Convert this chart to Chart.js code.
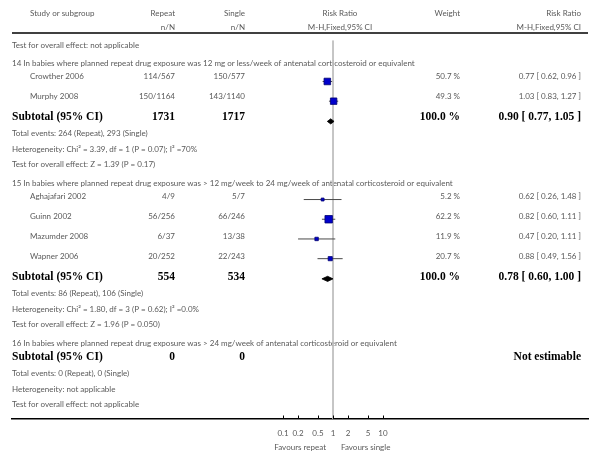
<!DOCTYPE html>
<html>
<head>
<meta charset="utf-8">
<script src="https://cdn.jsdelivr.net/npm/chart.js@4.4.1/dist/chart.umd.min.js"></script>
<style>
  html, body { margin: 0; padding: 0; background: #fff; }
  canvas { display: block; }
</style>
</head>
<body>
<canvas id="forest" width="601" height="458"></canvas>
<script>
// studies
const studies = ["Crowther 2006", "Murphy 2008", "Aghajafari 2002", "Guinn 2002", "Mazumder 2008", "Wapner 2006"];
const studyGroup = [0, 0, 1, 1, 1, 1];
const repeatNN = ["114/567", "150/1164", "4/9", "56/256", "6/37", "20/252"];
const singleNN = ["150/577", "143/1140", "5/7", "66/246", "13/38", "22/243"];
const riskRatio = [0.77, 1.03, 0.62, 0.82, 0.47, 0.88];
const ciLow = [0.62, 0.83, 0.26, 0.60, 0.20, 0.49];
const ciHigh = [0.96, 1.27, 1.48, 1.11, 1.11, 1.56];
const weights = [50.7, 49.3, 5.2, 62.2, 11.9, 20.7];

// subgroups
const headings = [
  "14 In babies where planned repeat drug exposure was 12 mg or less/week of antenatal corticosteroid or equivalent",
  "15 In babies where planned repeat drug exposure was > 12 mg/week to 24 mg/week of antenatal corticosteroid or equivalent",
  "16 In babies where planned repeat drug exposure was > 24 mg/week of antenatal corticosteroid or equivalent"
];
const subRepeatN = ["1731", "554", "0"];
const subSingleN = ["1717", "534", "0"];
const subRR = [0.90, 0.78, null];
const subLow = [0.77, 0.60, null];
const subHigh = [1.05, 1.00, null];
const subWeight = ["100.0 %", "100.0 %", ""];
const totalEvents = [
  "Total events: 264 (Repeat), 293 (Single)",
  "Total events: 86 (Repeat), 106 (Single)",
  "Total events: 0 (Repeat), 0 (Single)"
];
const heterogeneity = [
  "Heterogeneity: Chi² = 3.39, df = 1 (P = 0.07); I² =70%",
  "Heterogeneity: Chi² = 1.80, df = 3 (P = 0.62); I² =0.0%",
  "Heterogeneity: not applicable"
];
const overallEffect = [
  "Test for overall effect: Z = 1.39 (P = 0.17)",
  "Test for overall effect: Z = 1.96 (P = 0.050)",
  "Test for overall effect: not applicable"
];
const carryOver = "Test for overall effect: not applicable";

// axis
const tickValues = [0.1, 0.2, 0.5, 1, 2, 5, 10];
const tickLabels = ["0.1", "0.2", "0.5", "1", "2", "5", "10"];
const favourLeft = "Favours repeat";
const favourRight = "Favours single";

const fmt2 = v => v.toFixed(2);
const SANS = 'Lato, "Open Sans", sans-serif';
const SERIF = '"Liberation Serif", "DejaVu Serif", serif';
const GREY = "#595959";
const SMALL = "8px " + SANS;

// row layout (vertical positions in px from the top of the plot area)
const rows = [];
let y = 45;
rows.push({ kind: "note", text: carryOver, y });
headings.forEach((h, g) => {
  y += 18.5;
  rows.push({ kind: "heading", text: h, y });
  const members = studies.map((_, i) => i).filter(i => studyGroup[i] === g);
  if (members.length) {
    y += 13;
    members.forEach((s, k) => {
      if (k) y += 20;
      rows.push({ kind: "study", s, y });
    });
    y += 20.5;
  } else {
    y += 14;
  }
  rows.push({ kind: "subtotal", g, y });
  y += 16.5;
  rows.push({ kind: "note", text: totalEvents[g], y });
  y += 15.7;
  rows.push({ kind: "note", text: heterogeneity[g], y });
  y += 15.6;
  rows.push({ kind: "note", text: overallEffect[g], y });
});

const PLOT_BOTTOM = 419;
const studyRows = rows.filter(r => r.kind === "study");
const subRows = rows.filter(r => r.kind === "subtotal" && subRR[r.g] != null);

const datasets = [];
// reference line at RR = 1
datasets.push({
  type: "line",
  data: [{ x: 1, y: 35 }, { x: 1, y: PLOT_BOTTOM }],
  borderColor: "#bdbdbd",
  borderWidth: 1,
  pointRadius: 0,
  order: 3
});
// confidence intervals
studyRows.forEach(r => {
  datasets.push({
    type: "line",
    data: [{ x: ciLow[r.s], y: r.y }, { x: ciHigh[r.s], y: r.y }],
    borderColor: "#4a4a4a",
    borderWidth: 1,
    pointRadius: 0,
    order: 2
  });
});
// study estimates
datasets.push({
  type: "scatter",
  data: studyRows.map(r => ({ x: riskRatio[r.s], y: r.y })),
  pointStyle: "rect",
  pointRadius: studyRows.map(r => (2.5 + weights[r.s] * 0.08) / Math.SQRT2),
  backgroundColor: "#0000cc",
  borderColor: "#000070",
  borderWidth: 0.8,
  order: 1
});
// pooled diamonds
subRows.forEach(r => {
  const g = r.g;
  datasets.push({
    type: "line",
    data: [
      { x: subLow[g], y: r.y },
      { x: subRR[g], y: r.y - 2.6 },
      { x: subHigh[g], y: r.y },
      { x: subRR[g], y: r.y + 2.6 },
      { x: subLow[g], y: r.y }
    ],
    borderColor: "#000",
    backgroundColor: "#000",
    borderWidth: 0.8,
    pointRadius: 0,
    tension: 0,
    fill: "shape",
    order: 1
  });
});

function text(ctx, str, x, yy, align, font, color) {
  ctx.font = font;
  ctx.fillStyle = color;
  ctx.textAlign = align;
  ctx.textBaseline = "middle";
  ctx.fillText(str, x, yy);
}

const tablePlugin = {
  id: "table",
  beforeDatasetsDraw(chart) {
    const ctx = chart.ctx;
    const xs = chart.scales.x;
    const mid = xs.getPixelForValue(1) + 7;
    const bold = "bold 11.5px " + SERIF;
    ctx.save();
    // header
    text(ctx, "Study or subgroup", 30, 13, "left", SMALL, GREY);
    text(ctx, "Repeat", 175, 13, "right", SMALL, GREY);
    text(ctx, "Single", 245, 13, "right", SMALL, GREY);
    text(ctx, "Risk Ratio", mid, 13, "center", SMALL, GREY);
    text(ctx, "Weight", 460, 13, "right", SMALL, GREY);
    text(ctx, "Risk Ratio", 581, 13, "right", SMALL, GREY);
    text(ctx, "n/N", 175, 27, "right", SMALL, GREY);
    text(ctx, "n/N", 245, 27, "right", SMALL, GREY);
    text(ctx, "M-H,Fixed,95% CI", mid, 27, "center", SMALL, GREY);
    text(ctx, "M-H,Fixed,95% CI", 581, 27, "right", SMALL, GREY);

    rows.forEach(r => {
      if (r.kind === "note" || r.kind === "heading") {
        text(ctx, r.text, 12, r.y, "left", SMALL, GREY);
      } else if (r.kind === "study") {
        const s = r.s;
        text(ctx, studies[s], 30, r.y, "left", SMALL, GREY);
        text(ctx, repeatNN[s], 175, r.y, "right", SMALL, GREY);
        text(ctx, singleNN[s], 245, r.y, "right", SMALL, GREY);
        text(ctx, weights[s].toFixed(1) + " %", 460, r.y, "right", SMALL, GREY);
        text(ctx, fmt2(riskRatio[s]) + " [ " + fmt2(ciLow[s]) + ", " + fmt2(ciHigh[s]) + " ]", 581, r.y, "right", SMALL, GREY);
      } else if (r.kind === "subtotal") {
        const g = r.g;
        text(ctx, "Subtotal (95% CI)", 12, r.y, "left", bold, "#000");
        text(ctx, subRepeatN[g], 175, r.y, "right", bold, "#000");
        text(ctx, subSingleN[g], 245, r.y, "right", bold, "#000");
        if (subWeight[g]) text(ctx, subWeight[g], 460, r.y, "right", bold, "#000");
        const est = subRR[g] == null ? "Not estimable"
          : fmt2(subRR[g]) + " [ " + fmt2(subLow[g]) + ", " + fmt2(subHigh[g]) + " ]";
        text(ctx, est, 581, r.y, "right", bold, "#000");
      }
    });
    ctx.restore();
  },
  afterDraw(chart) {
    const ctx = chart.ctx;
    const xs = chart.scales.x;
    const area = chart.chartArea;
    ctx.save();
    // header rule
    ctx.strokeStyle = "#000";
    ctx.lineWidth = 1.5;
    ctx.beginPath();
    ctx.moveTo(area.left, 33);
    ctx.lineTo(area.right, 33);
    ctx.stroke();
    // tick marks pointing up
    ctx.lineWidth = 1;
    ctx.beginPath();
    tickValues.forEach(v => {
      const px = Math.round(xs.getPixelForValue(v)) + 0.5;
      ctx.moveTo(px, area.bottom);
      ctx.lineTo(px, area.bottom - 3.5);
    });
    ctx.stroke();
    const one = xs.getPixelForValue(1);
    text(ctx, favourLeft, one - 7, 447, "right", SMALL, GREY);
    text(ctx, favourRight, one + 8, 447, "left", SMALL, GREY);
    ctx.restore();
  }
};

new Chart(document.getElementById("forest"), {
  data: { datasets },
  options: {
    responsive: false,
    animation: false,
    events: [],
    layout: { padding: { left: 12, right: 13, top: 0, bottom: 0 } },
    plugins: { legend: { display: false }, tooltip: { enabled: false } },
    scales: {
      x: {
        type: "logarithmic",
        position: "bottom",
        min: Math.pow(10, -6.42),
        max: Math.pow(10, 5.1),
        afterBuildTicks: scale => { scale.ticks = tickValues.map(v => ({ value: v })); },
        afterFit: scale => { scale.height = 458 - PLOT_BOTTOM; },
        grid: { display: false, drawTicks: false },
        border: { display: true, color: "#000", width: 1.5 },
        ticks: {
          autoSkip: false,
          maxRotation: 0,
          padding: 9.5,
          color: GREY,
          font: { family: SANS, size: 8 },
          callback: (value) => tickLabels[tickValues.indexOf(value)] ?? ""
        }
      },
      y: {
        type: "linear",
        display: false,
        reverse: true,
        min: 0,
        max: PLOT_BOTTOM
      }
    }
  },
  plugins: [tablePlugin]
});
</script>
</body>
</html>
